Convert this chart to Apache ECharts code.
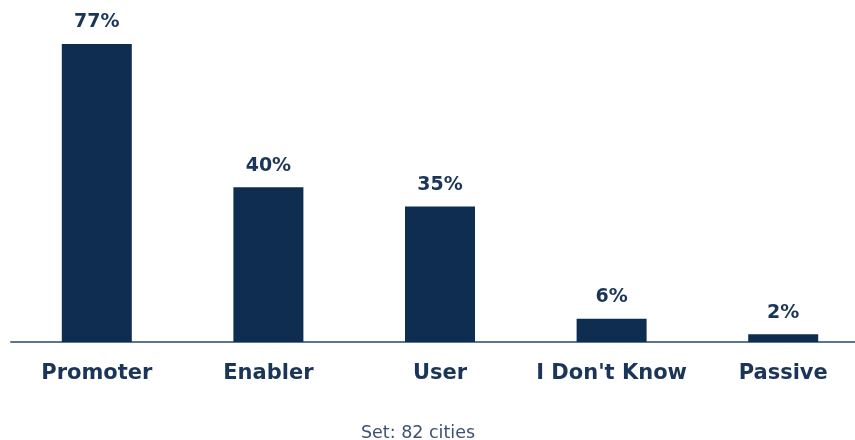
<!DOCTYPE html>
<html>
<head>
<meta charset="utf-8">
<style>
  html, body { margin: 0; padding: 0; background: #ffffff; }
  #chart { width: 855px; height: 440px; }
</style>
<script src="https://cdn.jsdelivr.net/npm/echarts@6/dist/echarts.min.js"></script>
</head>
<body>
<div id="chart"></div>
<script>
// Share of cities by role
const categories = ['Promoter', 'Enabler', 'User', "I Don't Know", 'Passive'];
const shares = [77, 40, 35, 6, 2];
const footnote = 'Set: 82 cities';

const navy = '#0f2d51';
const labelFont = '"DejaVu Sans", "Noto Sans", sans-serif';

const chart = echarts.init(document.getElementById('chart'));
chart.setOption({
  animation: false,
  grid: { left: 11, width: 858, top: 32.4, bottom: 98, containLabel: false, outerBoundsMode: 'none' },
  title: {
    text: footnote,
    left: 413,
    textAlign: 'center',
    top: 419,
    textStyle: { fontFamily: labelFont, fontSize: 17.5, fontWeight: 'normal', color: '#3b5272' }
  },
  xAxis: {
    type: 'category',
    data: categories,
    axisTick: { show: false },
    axisLine: { lineStyle: { color: '#5d7391', width: 2 } },
    axisLabel: {
      interval: 0,
      hideOverlap: false,
      margin: 21,
      fontFamily: labelFont,
      fontSize: 21,
      fontWeight: 'bold',
      color: '#1b3558'
    }
  },
  yAxis: {
    type: 'value',
    min: 0,
    max: 80,
    show: false,
    splitLine: { show: false }
  },
  series: [{
    type: 'bar',
    data: shares,
    barWidth: 70,
    itemStyle: { color: navy },
    label: {
      show: true,
      position: 'top',
      distance: 12,
      formatter: p => p.value + '%',
      fontFamily: labelFont,
      fontSize: 19,
      fontWeight: 'bold',
      color: '#1b3558'
    }
  }]
});
</script>
</body>
</html>
